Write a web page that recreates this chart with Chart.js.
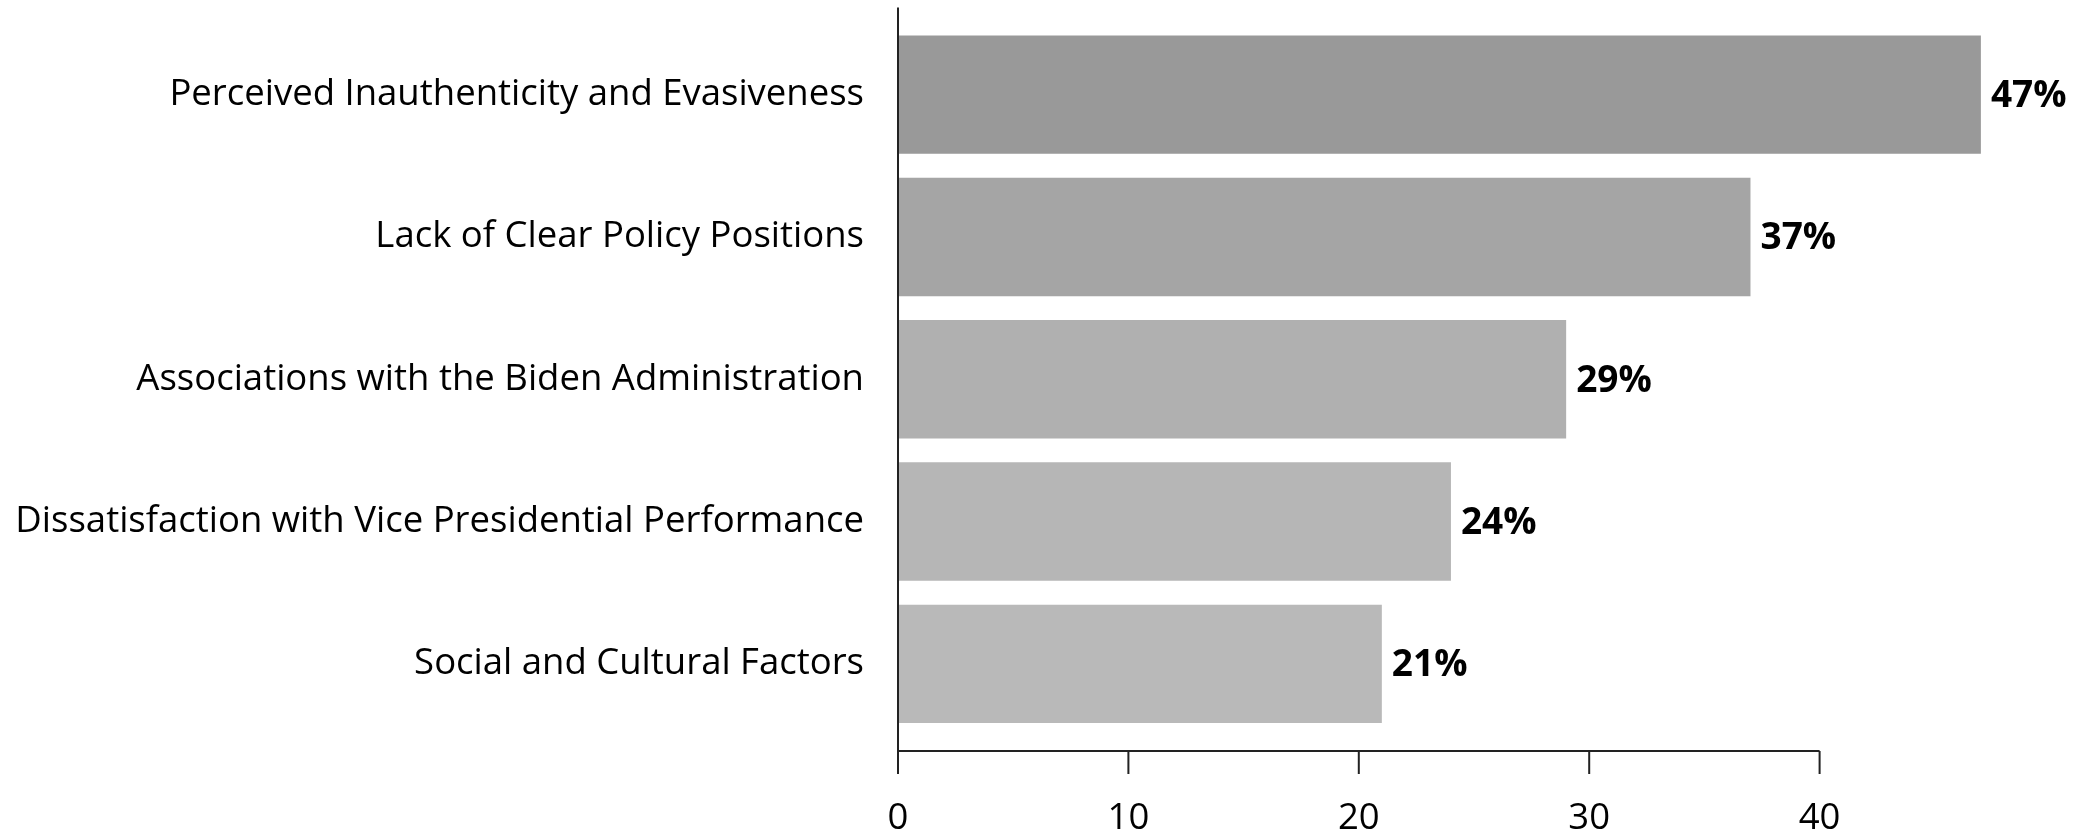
<!DOCTYPE html>
<html>
<head>
<meta charset="utf-8">
<script src="https://cdn.jsdelivr.net/npm/chart.js@4/dist/chart.umd.min.js"></script>
<style>
  html, body { margin: 0; padding: 0; background: #fff; }
  #wrap { width: 2080px; height: 833px; }
</style>
</head>
<body>
<div id="wrap"><canvas id="reasonsChart"></canvas></div>
<script>
// Data for the chart
const labels = [
    'Perceived Inauthenticity and Evasiveness',
    'Lack of Clear Policy Positions',
    'Associations with the Biden Administration',
    'Dissatisfaction with Vice Presidential Performance',
    'Social and Cultural Factors'
];
const values = [47, 37, 29, 24, 21];
const barColors = ['#999999', '#a5a5a5', '#b0b0b0', '#b6b6b6', '#b9b9b9'];
const xTicks = [0, 10, 20, 30, 40];

Chart.defaults.font.family = '"Open Sans", "Noto Sans", sans-serif';
Chart.defaults.color = '#000';

// Spines, ticks and value labels drawn in the matplotlib style
const spinePlugin = {
    id: 'spines',
    afterDraw(chart) {
        const ctx = chart.ctx;
        const area = chart.chartArea;
        const x = chart.scales.x;
        const overhang = 16;
        const x0 = x.getPixelForValue(0);
        const yBottom = area.bottom + overhang;

        ctx.save();
        ctx.strokeStyle = '#222';
        ctx.lineWidth = 2;
        ctx.beginPath();
        ctx.moveTo(x0, area.top - overhang);
        ctx.lineTo(x0, yBottom);
        ctx.lineTo(x.getPixelForValue(xTicks[xTicks.length - 1]), yBottom);
        xTicks.forEach(v => {
            const px = x.getPixelForValue(v);
            ctx.moveTo(px, yBottom);
            ctx.lineTo(px, yBottom + 23);
        });
        ctx.stroke();

        // value labels
        ctx.fillStyle = '#000';
        ctx.font = 'bold 37px "Open Sans", "Noto Sans", sans-serif';
        ctx.textAlign = 'left';
        ctx.textBaseline = 'middle';
        chart.getDatasetMeta(0).data.forEach((bar, i) => {
            ctx.fillText(values[i] + '%', bar.x + 10, bar.y + 2);
        });
        ctx.restore();
    }
};

const config = {
    type: 'bar',
    data: {
        labels: labels,
        datasets: [{
            data: values,
            backgroundColor: barColors,
            borderWidth: 0,
            categoryPercentage: 1.0,
            barPercentage: 0.832
        }]
    },
    options: {
        indexAxis: 'y',
        responsive: true,
        maintainAspectRatio: false,
        animation: false,
        layout: { padding: { top: 23.5, right: 30, left: 0, bottom: 0 } },
        plugins: {
            legend: { display: false },
            tooltip: { enabled: false }
        },
        scales: {
            x: {
                min: 0,
                max: 50,
                afterBuildTicks: scale => {
                    scale.ticks = xTicks.map(v => ({ value: v }));
                },
                afterFit: scale => { scale.height = 98; },
                grid: { display: false, drawTicks: false },
                border: { display: false },
                ticks: {
                    padding: 62,
                    font: { size: 36.5 },
                    maxRotation: 0
                }
            },
            y: {
                afterFit: scale => {
                    scale.width = 898;
                    scale.paddingTop = 0;
                    scale.paddingBottom = 0;
                },
                grid: { display: false, drawTicks: false },
                border: { display: false },
                ticks: {
                    padding: 34,
                    font: { size: 36.5 }
                }
            }
        }
    },
    plugins: [spinePlugin]
};

// Render the chart
const ctx = document.getElementById('reasonsChart').getContext('2d');
const reasonsChart = new Chart(ctx, config);
</script>
</body>
</html>
